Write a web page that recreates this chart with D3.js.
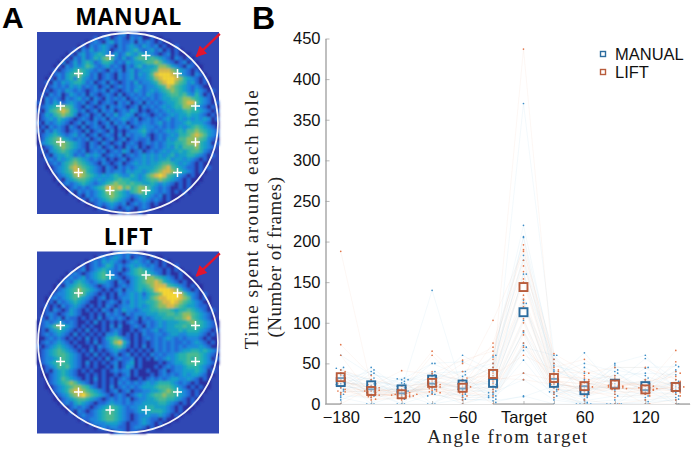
<!DOCTYPE html>
<html>
<head>
<meta charset="utf-8">
<script src="https://cdn.jsdelivr.net/npm/d3@7"></script>
<style>
html, body { margin: 0; padding: 0; background: #fff; }
svg { display: block; }
.tick-label { font-family: "Liberation Sans", sans-serif; font-size: 16.5px; fill: #111; }
.serif-title { font-family: "Liberation Serif", serif; font-size: 19px; fill: #222; }
.panel-title { font-family: "Open Sans", sans-serif; font-weight: 700; fill: #000; letter-spacing: 0.7px; }
.panel-letter { font-family: "Liberation Sans", sans-serif; font-weight: 700; fill: #000; }
</style>
</head>
<body>
<svg id="chart" width="693" height="450"></svg>
<script>
// occupancy maps, one string per row, centred on the arena (level 0-8)
var manualMap = [
"001201100",
"10120121021200100",
"012102312112021210100",
"0102123210212321321201001",
"102131232012123421231201010",
"0102312343213124324332101201000",
"010213124356521312455454321021010",
"02013134312443121323345565321012010",
"0102132354212312102134233466532102100",
"1012345432121021202312334577765321010",
"012134564312012102123132357888763210210",
"01021342532120121021231223467888764321010",
"10213234431201202101213122346788654231010",
"01212132312120120121212312234576543212100",
"0101213212101212021012132123234565432132101",
"1021201321202101210201212132123455453242010",
"0212102123120210212120121212123344566543210",
"102132123212012012102120120212123345677532101",
"012345654210210120212101202121232344665321010",
"102456764312012021201213201012123233454432101",
"013245654201201202131232012101212323343321010",
"012324321012102120212321201212123123232323201",
"102123210120212012021201212212312122343332100",
"010212102102012102102120123221212123234543210",
"102132101210201210201012234212123234355654321",
"012343212312012012102021223101212324456765321",
"013456432121201201201201211201213235566654210",
"023456654321021021012012101212123344566743201",
"0124565432102120120102120101212324355564321",
"1023454321201212012132012012123233434554210",
"0102334312132320121201212323232342334432101",
"12132345432121201012012232323342332321010",
"01213456543210210120123232334554323210100",
"00123467654321021021212333345675432110101",
"012345776432102122132332345677654321010",
"0123467654323234322432356787543210100",
"0102345543232334544332345565432101000",
"01212343212345655454433432321010100",
"001212123457767564566532121001010",
"0102121234665432456543212101010",
"010212345654321234321201000",
"0102123454321012321210100",
"001212321201212101000",
"01012101210121000",
"001010010"
];
var liftMap = [
"012121100",
"01212321201210100",
"012132321012321201010",
"0101212431212323212101001",
"012012343212013454321101010",
"0121012345321012345543210100100",
"012123123454321012345665432101000",
"01213432123321021023456676432101000",
"0102345432101210121234456777543210100",
"0123456543210101202234345788876421010",
"012234565321010102123231345688887532101",
"01212345432101201012232323567788876521010",
"01021234321001012102132334456778765432100",
"10102123210101021012232323456677654332110",
"0102101321010102102132212334455543445432101",
"0121012321001010212102122233344554566543210",
"1021202110101020121210120212334445567543210",
"012123212100102010101012101212323334456543210",
"012356432101010010202001210212323344545543210",
"010234321010201010121001012123123334344432101",
"012123210201010102231010102112212332233321010",
"001212101010201013454210101212123212122210100",
"012123210100102012467420101012121211212321010",
"101234321010010212345310102012121212122232100",
"012345432101020101232101010102121212334434321",
"012345543210102010120120101021212234455543210",
"012234543210010102012112010102123234454543201",
"012345543210201010120123010000101233455543210",
"0123545321010100102013201000101212234443210",
"0102343210101001012122010010012012233343201",
"0012343210010101001012010001012121232332100",
"01235432101020101012100101212123322321010",
"01234565321010101021212123234443212101000",
"00123456654210102012121233345554321010100",
"012346776543210120120112233456543210100",
"0123567865432101210123234556554321010",
"0012345543210121212012233455443210100",
"01213432101123221212233334432101010",
"001212101234543212233443332101000",
"0102101234554321123334443210100",
"012112345543210122322321010",
"0112234554321012321101000",
"012223332101123210100",
"01212211012210100",
"012101100"
];
var mapColors = ["#2a2f9e", "#2468d6", "#1c88dc", "#16a2c8", "#28b4ac", "#4cbc90", "#90c060", "#dcbc48", "#f8d830"];

// hole positions in arena units, centre of arena = 0
var holeX = [-0.2, 0.2, -0.55, 0.55, -0.75, 0.75, -0.75, 0.75, -0.55, 0.55, -0.2, 0.2];
var holeY = [-0.75, -0.75, -0.55, -0.55, -0.19, -0.19, 0.21, 0.21, 0.55, 0.55, 0.75, 0.75];

var angles = [-180, -150, -120, -90, -60, -30, 0, 30, 60, 90, 120, 150];
var angleLabels = {"-180": "\u2212180", "-120": "\u2212120", "-60": "\u221260", "0": "Target", "60": "60", "120": "120"};
var yTicks = [0, 50, 100, 150, 200, 250, 300, 350, 400, 450];

var meanManual = [27, 23, 18, 30, 24, 26, 113, 26, 17, 25, 22, 21];
var meanLift = [33, 16, 12, 26, 20, 37, 144, 32, 22, 24, 18, 21];

// one row per animal, one column per angle
var manualSubjects = [
    [28, 20, 16, 34, 25, 14, 370, 60, 22, 30, 18, 26],
    [60, 36, 30, 50, 34, 58, 220, 47, 38, 25, 56, 30],
    [42, 28, 22, 26, 60, 40, 206, 55, 12, 48, 30, 14],
    [20, 45, 18, 140, 16, 60, 205, 30, 63, 18, 22, 48],
    [45, 16, 32, 22, 28, 45, 183, 42, 25, 50, 60, 18],
    [36, 12, 26, 38, 40, 50, 177, 36, 50, 40, 14, 42],
    [30, 40, 14, 20, 22, 26, 160, 26, 18, 22, 44, 22],
    [18, 23, 31, 30, 18, 30, 160, 50, 30, 35, 38, 36],
    [38, 30, 20, 50, 52, 35, 128, 14, 45, 28, 25, 16],
    [14, 42, 8, 13, 36, 22, 124, 24, 20, 45, 45, 46],
    [32, 0, 28, 40, 26, 24, 124, 40, 28, 16, 12, 28],
    [25, 25, 15, 24, 14, 18, 103, 20, 10, 42, 35, 20],
    [27, 32, 6, 36, 30, 16, 90, 28, 6, 38, 20, 40],
    [22, 18, 0, 28, 20, 20, 88, 18, 15, 24, 28, 24],
    [10, 8, 18, 18, 10, 12, 75, 16, 8, 20, 16, 12],
    [16, 15, 30, 0, 25, 10, 72, 12, 22, 12, 10, 26],
    [5, 20, 10, 25, 8, 8, 70, 60, 4, 10, 8, 10],
    [8, 0, 0, 12, 5, 6, 66, 10, 2, 5, 5, 8],
    [35, 22, 16, 15, 0, 10, 54, 8, 0, 0, 3, 5],
    [12, 38, 25, 10, 12, 8, 38, 15, 0, 0, 0, 18],
    [24, 14, 0, 0, 18, 14, 30, 5, 0, 0, 18, 0],
    [0, 0, 12, 0, 6, 4, 9, 22, 0, 0, 0, 6],
    [44, 10, 22, 32, 40, 2, 10, 0, 0, 0, 32, 0]
];
var liftSubjects = [
    [30, 16, 12, 20, 14, 38, 437, 38, 26, 22, 18, 20],
    [188, 22, 41, 37, 54, 65, 196, 50, 22, 20, 30, 24],
    [73, 35, 18, 65, 30, 103, 190, 45, 55, 28, 22, 66],
    [60, 10, 14, 60, 22, 75, 188, 62, 40, 32, 16, 52],
    [42, 30, 22, 25, 50, 70, 177, 40, 38, 45, 45, 30],
    [38, 18, 10, 30, 20, 60, 170, 55, 35, 24, 25, 40],
    [40, 25, 16, 18, 40, 55, 163, 35, 28, 35, 20, 26],
    [35, 14, 20, 28, 18, 50, 154, 33, 32, 20, 28, 34],
    [28, 20, 13, 40, 28, 45, 150, 30, 16, 25, 14, 38],
    [26, 12, 11, 22, 16, 42, 134, 28, 25, 18, 20, 18],
    [32, 8, 12, 19, 25, 40, 129, 25, 20, 15, 15, 22],
    [30, 15, 9, 17, 12, 30, 125, 20, 14, 12, 18, 16],
    [22, 6, 8, 16, 10, 25, 120, 22, 18, 8, 12, 14],
    [20, 5, 7, 15, 8, 22, 105, 18, 10, 22, 10, 12],
    [18, 18, 5, 12, 5, 18, 100, 15, 5, 0, 5, 10],
    [24, 13, 10, 26, 0, 15, 90, 12, 0, 0, 0, 5],
    [14, 17, 15, 21, 14, 10, 85, 8, 26, 20, 0, 0],
    [15, 11, 11, 23, 24, 0, 75, 26, 18, 26, 20, 28],
    [0, 20, 14, 14, 19, 20, 70, 31, 12, 23, 24, 19],
    [25, 24, 9, 32, 32, 35, 60, 42, 30, 21, 17, 21],
    [12, 9, 12, 27, 26, 28, 38, 29, 24, 30, 22, 15],
    [16, 16, 18, 24, 21, 32, 30, 24, 21, 19, 19, 23]
];

var svg = d3.select("#chart");
var defs = svg.append("defs");
defs.append("filter").attr("id", "soft").append("feGaussianBlur").attr("stdDeviation", 0.85);
defs.append("filter").attr("id", "softDots").append("feGaussianBlur").attr("stdDeviation", 0.3);
defs.append("marker").attr("id", "redHead")
    .attr("viewBox", "0 0 10 10").attr("refX", 9).attr("refY", 5)
    .attr("markerWidth", 4.6).attr("markerHeight", 4.6).attr("orient", "auto")
    .append("path").attr("d", "M0,0L10,5L0,10z").attr("fill", "#e2152e");

// panel A
function drawArena(rows, left, top, name) {
    var size = 182;
    var g = svg.append("g").attr("transform", "translate(" + left + "," + top + ")");
    var band = d3.scaleBand().domain(d3.range(45)).range([0, size]);
    var color = d3.scaleOrdinal().domain(d3.range(9)).range(mapColors);
    var unit = d3.scaleLinear().domain([-1, 1]).range([size / 2 - 90, size / 2 + 90]);

    g.append("rect").attr("width", size).attr("height", size).attr("fill", "#3048b4");

    var cells = [];
    rows.forEach(function (row, r) {
        var off = Math.floor((45 - row.length) / 2);
        row.split("").forEach(function (c, i) {
            cells.push({ r: r, c: off + i, v: +c });
        });
    });
    g.append("g").attr("filter", "url(#soft)")
        .selectAll("rect").data(cells).enter().append("rect")
        .attr("x", function (d) { return band(d.c); })
        .attr("y", function (d) { return band(d.r); })
        .attr("width", band.bandwidth() + 0.3)
        .attr("height", band.bandwidth() + 0.3)
        .attr("fill", function (d) { return color(d.v); });

    g.append("circle").attr("cx", size / 2).attr("cy", size / 2).attr("r", unit(1) - unit(0))
        .attr("fill", "none").attr("stroke", "#f2f4fa").attr("stroke-width", 1.8);

    holeX.forEach(function (hx, i) {
        var cx = unit(hx), cy = unit(holeY[i]);
        g.append("path").attr("d", "M" + (cx - 4.5) + "," + cy + "H" + (cx + 4.5) + "M" + cx + "," + (cy - 4.5) + "V" + (cy + 4.5))
            .attr("stroke", "#fff").attr("stroke-width", 1.5).attr("fill", "none");
    });

    // red arrow points at the target hole
    g.append("line")
        .attr("x1", unit(1.02)).attr("y1", unit(-0.99))
        .attr("x2", unit(0.76)).attr("y2", unit(-0.74))
        .attr("stroke", "#e2152e").attr("stroke-width", 2.4)
        .attr("marker-end", "url(#redHead)");

    svg.append("text").attr("class", "panel-title")
        .attr("x", left + size / 2 + 0.5).attr("y", top - 7)
        .attr("text-anchor", "middle").attr("font-size", 23).text(name);
}
drawArena(manualMap, 37, 32, "MANUAL");
drawArena(liftMap, 37, 251.5, "LIFT");

svg.append("text").attr("class", "panel-letter").attr("x", 2).attr("y", 28).attr("font-size", 30).text("A");
svg.append("text").attr("class", "panel-letter").attr("x", 252).attr("y", 29).attr("font-size", 32).text("B");

// panel B
var x = d3.scaleLinear().domain([-195, 164]).range([325.5, 690]);
var y = d3.scaleLinear().domain([0, 450]).range([404, 38.5]);

var line = d3.line()
    .x(function (d, i) { return x(angles[i]); })
    .y(function (d) { return y(d); });

svg.append("g").selectAll("path").data(manualSubjects).enter().append("path")
    .attr("d", line).attr("fill", "none").attr("stroke", "#7db7e0").attr("stroke-opacity", 0.13).attr("stroke-width", 0.7);
svg.append("g").selectAll("path").data(liftSubjects).enter().append("path")
    .attr("d", line).attr("fill", "none").attr("stroke", "#eda384").attr("stroke-opacity", 0.13).attr("stroke-width", 0.7);

// dots sharing a value bin get spread sideways
function spreadDots(subjects) {
    var dots = [];
    angles.forEach(function (a, col) {
        var bins = d3.group(subjects.map(function (s) { return s[col]; }), function (v) { return Math.round(v / 4); });
        bins.forEach(function (vals) {
            vals.forEach(function (v, k) {
                var side = (k % 2 ? 1 : -1) * Math.ceil(k / 2);
                dots.push({ a: a, v: v, dx: side * 3.6 });
            });
        });
    });
    return dots;
}

var dotLayer = svg.append("g").attr("filter", "url(#softDots)");
[[manualSubjects, "#3f8fc8", -1], [liftSubjects, "#e2764a", 1]].forEach(function (grp) {
    dotLayer.append("g").selectAll("circle").data(spreadDots(grp[0])).enter().append("circle")
        .attr("cx", function (d) { return x(d.a) + d.dx + (d.dx === 0 ? 0 : grp[2] * 0.8); })
        .attr("cy", function (d) { return y(d.v); })
        .attr("r", 0.85)
        .attr("fill", grp[1]);
});

function drawMeans(vals, color) {
    svg.append("g").selectAll("rect").data(vals).enter().append("rect")
        .attr("x", function (d, i) { return x(angles[i]) - 4; })
        .attr("y", function (d) { return y(d) - 4; })
        .attr("width", 8).attr("height", 8)
        .attr("fill", "#fff").attr("fill-opacity", 0.35)
        .attr("stroke", color).attr("stroke-width", 1.9);
}
drawMeans(meanManual, "#2c6c9e");
drawMeans(meanLift, "#b85c3c");

// axes
var yAxis = svg.append("g").attr("transform", "translate(" + x(-195) + ",0)")
    .call(d3.axisLeft(y).tickValues(yTicks).tickSize(-4).tickSizeOuter(0).tickPadding(5));
var xAxis = svg.append("g").attr("transform", "translate(0," + y(0) + ")")
    .call(d3.axisBottom(x).tickValues(angles).tickSize(-3).tickSizeOuter(0).tickPadding(7)
        .tickFormat(function (d) { return angleLabels[d] || ""; }));
yAxis.selectAll(".tick text").attr("class", "tick-label");
xAxis.selectAll(".tick text").attr("class", "tick-label");
yAxis.selectAll(".tick line").attr("stroke", "#999").attr("stroke-width", 0.7);
xAxis.selectAll(".tick line").attr("stroke", "#999").attr("stroke-width", 0.7);
yAxis.select(".domain").attr("stroke", "#aaa").attr("stroke-width", 1.5);
xAxis.select(".domain").attr("stroke", "#e4e4e4").attr("stroke-width", 1);

// the bottom line only reads clearly at the ends and around target
[[-195, -180], [-30, 30], [150, 164]].forEach(function (seg) {
    svg.append("line").attr("x1", x(seg[0])).attr("x2", x(seg[1]))
        .attr("y1", y(0)).attr("y2", y(0))
        .attr("stroke", "#999").attr("stroke-width", 1.2);
});

svg.append("text").attr("class", "serif-title")
    .attr("transform", "translate(258,219) rotate(-90)").style("letter-spacing", "1.55px")
    .attr("text-anchor", "middle").text("Time spent around each hole");
svg.append("text").attr("class", "serif-title")
    .attr("transform", "translate(281,257) rotate(-90)").style("letter-spacing", "0.5px")
    .attr("text-anchor", "middle").text("(Number of frames)");
svg.append("text").attr("class", "serif-title")
    .attr("x", 508).attr("y", 443).style("letter-spacing", "1.5px")
    .attr("text-anchor", "middle").text("Angle from target");

// legend
var legendNames = ["MANUAL", "LIFT"];
var legendColors = ["#2c6c9e", "#b85c3c"];
var legendY = d3.scalePoint().domain(legendNames).range([54, 72]);
legendNames.forEach(function (name, i) {
    svg.append("rect").attr("x", 600.5).attr("y", legendY(name) - 2.5).attr("width", 5).attr("height", 5)
        .attr("fill", "#fff").attr("stroke", legendColors[i]).attr("stroke-width", 1.4);
    svg.append("text").attr("class", "tick-label").attr("x", 615).attr("y", legendY(name) + 6).text(name);
});
</script>
</body>
</html>
